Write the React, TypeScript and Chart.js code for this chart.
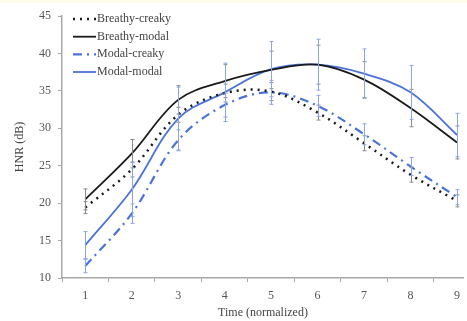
import React, { useEffect, useRef } from "react";
import { Chart, registerables } from "chart.js";

Chart.register(...registerables);

const timePoints = [1, 2, 3, 4, 5, 6, 7, 8, 9];
const seriesLabels = ["Breathy-creaky", "Breathy-modal", "Modal-creaky", "Modal-modal"];

const breathyCreaky = [19.4, 24.5, 31.8, 34.7, 34.9, 32.1, 28.0, 23.8, 20.3];
const breathyModal = [20.5, 26.6, 33.8, 36.3, 37.8, 38.5, 36.5, 32.7, 28.1];
const modalCreaky = [11.6, 18.6, 28.4, 33.1, 34.8, 33.0, 29.2, 24.9, 20.8];
const modalModal = [14.4, 21.8, 31.3, 34.8, 37.9, 38.5, 37.3, 34.8, 29.1];

const breathyCreakyErr = [0.8, 1.0, 1.0, 1.2, 1.2, 1.0, 1.0, 1.0, 0.8];
const breathyModalErr = [1.4, 1.9, 1.9, 2.2, 2.5, 2.6, 2.4, 2.5, 2.2];
const modalCreakyErr = [0.9, 1.3, 1.4, 1.6, 1.6, 1.4, 1.4, 1.2, 1.0];
const modalModalErr = [1.8, 3.6, 4.2, 3.9, 3.7, 3.4, 3.3, 3.6, 2.9];

const yTicks = [10, 15, 20, 25, 30, 35, 40, 45];

const FONT = "'Liberation Serif', 'Times New Roman', serif";
const BLUE = "#4a72d9";
const BLUE_ERR = "#8aa5ea";
const BLACK = "#1a1a1a";
const GRAY_ERR = "#8a8a8a";
const AXIS = "#a8a8a8";

const errorBarPlugin = {
  id: "errorBars",
  afterDatasetsDraw(chart: any) {
    const ctx = chart.ctx;
    const xs = chart.scales.x;
    const ys = chart.scales.y;
    chart.data.datasets.forEach((ds: any, i: number) => {
      const errs: number[] = ds.errors;
      if (!errs) return;
      ctx.save();
      ctx.strokeStyle = ds.errorColor;
      ctx.lineWidth = 1;
      ctx.setLineDash([]);
      ds.data.forEach((p: any, j: number) => {
        const x = Math.round(xs.getPixelForValue(p.x)) + 0.5;
        const yt = ys.getPixelForValue(p.y + errs[j]);
        const yb = ys.getPixelForValue(p.y - errs[j]);
        ctx.beginPath();
        ctx.moveTo(x, yt);
        ctx.lineTo(x, yb);
        ctx.moveTo(x - 2, yt);
        ctx.lineTo(x + 2, yt);
        ctx.moveTo(x - 2, yb);
        ctx.lineTo(x + 2, yb);
        ctx.stroke();
      });
      ctx.restore();
    });
  },
};

const legendPlugin = {
  id: "innerLegend",
  afterDraw(chart: any) {
    const ctx = chart.ctx;
    const rows = [19, 36.7, 54.3, 72];
    ctx.save();
    chart.data.datasets.forEach((ds: any, i: number) => {
      const y = rows[i];
      ctx.beginPath();
      ctx.strokeStyle = ds.borderColor;
      ctx.lineWidth = ds.borderWidth;
      ctx.setLineDash(ds.borderDash || []);
      ctx.moveTo(73, y);
      ctx.lineTo(96, y);
      ctx.stroke();
      ctx.setLineDash([]);
      ctx.fillStyle = "#444";
      ctx.font = "12px " + FONT;
      ctx.textBaseline = "middle";
      ctx.textAlign = "left";
      ctx.fillText(ds.label, 97, y);
    });
    ctx.restore();
  },
};

const topStripPlugin = {
  id: "topStrip",
  beforeDraw(chart: any) {
    const ctx = chart.ctx;
    ctx.save();
    ctx.fillStyle = "#fdfdea";
    ctx.fillRect(0, 0, chart.width, 3);
    ctx.restore();
  },
};

function pts(vals: number[]) {
  return timePoints.map((t, i) => ({ x: t, y: vals[i] }));
}

export default function App() {
  const ref = useRef<HTMLCanvasElement>(null);

  useEffect(() => {
    if (!ref.current) return;
    const chart = new Chart(ref.current, {
      type: "line",
      data: {
        datasets: [
          {
            label: seriesLabels[0],
            data: pts(breathyCreaky),
            errors: breathyCreakyErr,
            errorColor: GRAY_ERR,
            borderColor: BLACK,
            borderWidth: 2.5,
            borderDash: [2, 5],
            tension: 0.35,
            pointRadius: 0,
          },
          {
            label: seriesLabels[1],
            data: pts(breathyModal),
            errors: breathyModalErr,
            errorColor: GRAY_ERR,
            borderColor: BLACK,
            borderWidth: 1.8,
            tension: 0.35,
            pointRadius: 0,
          },
          {
            label: seriesLabels[2],
            data: pts(modalCreaky),
            errors: modalCreakyErr,
            errorColor: BLUE_ERR,
            borderColor: BLUE,
            borderWidth: 2.2,
            borderDash: [9, 5, 2, 5],
            tension: 0.35,
            pointRadius: 0,
          },
          {
            label: seriesLabels[3],
            data: pts(modalModal),
            errors: modalModalErr,
            errorColor: BLUE_ERR,
            borderColor: BLUE,
            borderWidth: 1.8,
            tension: 0.35,
            pointRadius: 0,
          },
        ] as any,
      },
      options: {
        animation: false,
        responsive: false,
        maintainAspectRatio: false,
        layout: { padding: { top: 16, left: 0, right: 0, bottom: 0 } },
        plugins: {
          legend: { display: false },
          tooltip: { enabled: false },
        },
        scales: {
          x: {
            type: "linear",
            min: 0.5,
            max: 9.15,
            afterFit: (s: any) => {
              s.height = 43;
            },
            ticks: {
              stepSize: 1,
              includeBounds: false,
              padding: 7,
              color: "#555",
              font: { family: FONT, size: 12 },
              maxRotation: 0,
            },
            grid: {
              offset: true,
              drawOnChartArea: false,
              drawTicks: true,
              tickLength: 4,
              color: AXIS,
              lineWidth: 1,
            },
            border: { display: true, color: AXIS, width: 1.5 },
            title: {
              display: true,
              text: "Time (normalized)",
              color: "#444",
              font: { family: FONT, size: 12 },
              padding: { top: 0, bottom: 1 },
            },
          },
          y: {
            type: "linear",
            min: 10,
            max: 45,
            afterFit: (s: any) => {
              s.width = 62;
            },
            afterBuildTicks: (s: any) => {
              s.ticks = yTicks.map((v) => ({ value: v }));
            },
            ticks: {
              padding: 7,
              color: "#555",
              font: { family: FONT, size: 12 },
            },
            grid: {
              drawOnChartArea: false,
              drawTicks: true,
              tickLength: 4,
              color: AXIS,
              lineWidth: 1,
            },
            border: { display: true, color: AXIS, width: 1.5 },
            title: {
              display: true,
              text: "HNR (dB)",
              color: "#444",
              font: { family: FONT, size: 12 },
              padding: { top: 13, bottom: 0 },
            },
          },
        },
      } as any,
      plugins: [topStripPlugin, errorBarPlugin, legendPlugin],
    });
    return () => chart.destroy();
  }, []);

  return (
    <div style={{ position: "fixed", left: 0, top: 0, width: 467, height: 321, background: "#fff" }}>
      <canvas ref={ref} width={467} height={321} style={{ width: 467, height: 321, display: "block" }} />
    </div>
  );
}
